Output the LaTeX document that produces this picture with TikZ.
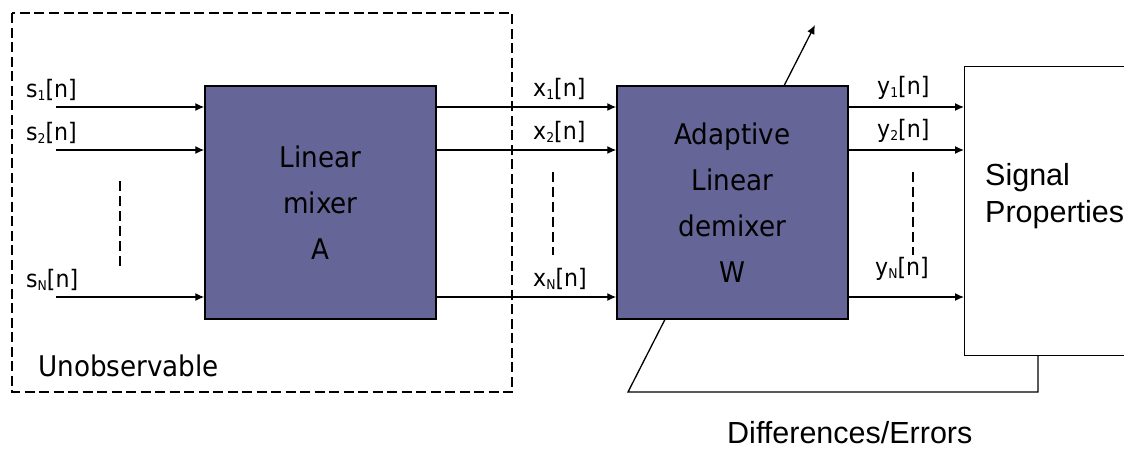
\documentclass[tikz,border=0pt]{standalone}
\usepackage{fontspec}
\setmainfont[FakeStretch=0.92]{DejaVu Sans}
\newfontfamily\arialf{Liberation Sans}
\usetikzlibrary{arrows.meta}
\definecolor{boxfill}{RGB}{101,101,151}
\newcommand{\lsub}[1]{\raisebox{-3pt}{\fontsize{13.5}{13.5}\selectfont #1}}
\begin{document}
\begin{tikzpicture}[x=1pt,y=-1pt,
  blk/.style={draw=black, fill=boxfill, line width=1.5pt, minimum width=231pt, minimum height=233pt,
    inner sep=0pt, align=center, font=\fontsize{28.5}{46}\selectfont},
  sigbox/.style={draw=black, fill=white, line width=1.3pt, minimum width=170pt, minimum height=289pt,
    inner sep=0pt, anchor=north west},
  lbl/.style={anchor=base west, inner sep=0pt, font=\fontsize{24}{24}\selectfont},
  txt/.style={anchor=base west, inner sep=0pt, font=\fontsize{28.5}{28.5}\selectfont},
  atxt/.style={anchor=base west, inner sep=0pt, font=\arialf\fontsize{30.5}{30.5}\selectfont},
  arr/.style={-{Latex[length=9pt,width=8pt]}, line width=1.3pt},
  dashbox/.style={line width=1.2pt, dash pattern=on 10pt off 4.5pt},
  dotsline/.style={line width=1.2pt, dash pattern=on 10pt off 5pt}
]
\useasboundingbox (0,0) rectangle (1124,450);

% unobservable region
\draw[dashbox] (12,13) rectangle (512,392);
\node[txt] (unobs) at (38,376) {Unobservable};

% feedback path (drawn first so the demixer covers it)
\coordinate (fb0) at (1038,355);
\coordinate (fb1) at (628,392);
\coordinate (fbtip) at (815,25);
\draw[arr] (fb0) |- (fb1) -- (fbtip);

% blocks
\node[blk] (mixer) at (320.5,202.5) {Linear\\mixer\\A};
\node[blk] (demix) at (732.5,202.5) {Adaptive\\Linear\\demixer\\W};
\node[sigbox] (sig) at (964,66) {};
\node[atxt] (sig1) at (985,185) {Signal};
\node[atxt] (sig2) at (985,222) {Properties};
\node[atxt] (diff) at (727,443) {Differences/Errors};

% input sources
\coordinate (s1a) at (56,107);
\coordinate (s2a) at (56,150);
\coordinate (sNa) at (56,297);
\draw[arr] (s1a) -- (s1a -| mixer.west);
\draw[arr] (s2a) -- (s2a -| mixer.west);
\draw[arr] (sNa) -- (sNa -| mixer.west);
\node[lbl] (ls1) at (26,97) {s\lsub{1}[n]};
\node[lbl] (ls2) at (26,140) {s\lsub{2}[n]};
\node[lbl] (lsN) at (26,287) {s\lsub{N}[n]};
\draw[dotsline] (120,181) -- (120,267);

% mixtures
\draw[arr] (mixer.east |- s1a) -- (demix.west |- s1a);
\draw[arr] (mixer.east |- s2a) -- (demix.west |- s2a);
\draw[arr] (mixer.east |- sNa) -- (demix.west |- sNa);
\node[lbl] (lx1) at (533,96) {x\lsub{1}[n]};
\node[lbl] (lx2) at (533,139) {x\lsub{2}[n]};
\node[lbl] (lxN) at (533,286) {x\lsub{N}[n]};
\draw[dotsline] (553,172) -- (553,255);

% outputs
\draw[arr] (demix.east |- s1a) -- (sig.west |- s1a);
\draw[arr] (demix.east |- s2a) -- (sig.west |- s2a);
\draw[arr] (demix.east |- sNa) -- (sig.west |- sNa);
\node[lbl] (ly1) at (877,94) {y\lsub{1}[n]};
\node[lbl] (ly2) at (877,137) {y\lsub{2}[n]};
\node[lbl] (lyN) at (875,275) {y\lsub{N}[n]};
\draw[dotsline] (913,172) -- (913,255);
\end{tikzpicture}
\end{document}
